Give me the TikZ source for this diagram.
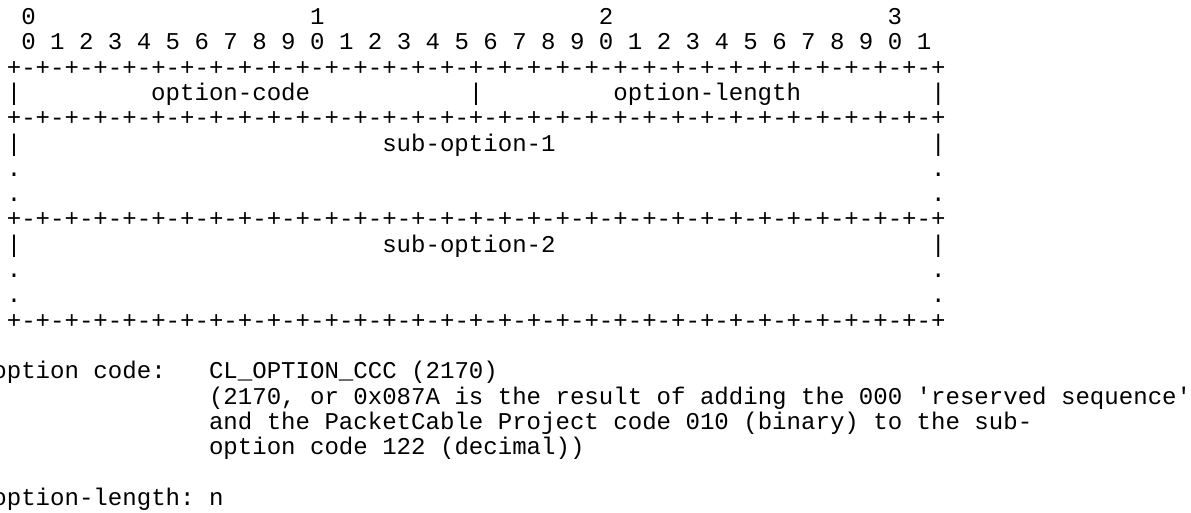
\documentclass[tikz,border=0pt]{standalone}
\usepackage{fontspec}
\setmonofont{Liberation Mono}[WordSpace={1,0,0}]

\newcommand{\asciifont}{\ttfamily\fontsize{24.07pt}{25pt}\selectfont\frenchspacing}
\newcommand{\ruleeight}{+-+-+-+-+-+-+-+-}
\newcommand{\rowrule}{\ruleeight\ruleeight\ruleeight\ruleeight+}

\tikzstyle{mono} = [inner sep=0pt, outer sep=0pt, anchor=base west, font=\asciifont, text=black]
\tikzstyle{ruler} = [mono]
\tikzstyle{field} = [mono]
\tikzstyle{comment} = [mono]

\begin{document}
\begin{tikzpicture}[x=14.44pt, y=-25.3pt]
		\fill [white] (7.6pt,24.5pt) rectangle (1198.6pt,-487.5pt);
		\useasboundingbox (7.6pt,24.5pt) rectangle (1198.6pt,-487.5pt);

		% bit numbers
		\node (hdrZero) [ruler] at (2,0) {0};
		\node (hdrOne) [ruler] at (22,0) {1};
		\node (hdrTwo) [ruler] at (42,0) {2};
		\node (hdrThree) [ruler] at (62,0) {3};
		\node (bitRow) [ruler] at (2,1) {0 1 2 3 4 5 6 7 8 9 0 1 2 3 4 5 6 7 8 9 0 1 2 3 4 5 6 7 8 9 0 1};

		% option layout
		\node (ruleA) [field] at (1,2) {\rowrule};
		\node (barA) [field] at (1,3) {|};
		\node (optionCode) [field] at (11,3) {option-code};
		\node (barB) [field] at (33,3) {|};
		\node (optionLength) [field] at (43,3) {option-length};
		\node (barC) [field] at (65,3) {|};
		\node (ruleB) [field] at (1,4) {\rowrule};
		\node (barD) [field] at (1,5) {|};
		\node (subOptionOne) [field] at (27,5) {sub-option-1};
		\node (barE) [field] at (65,5) {|};
		\node (dotA) [field] at (1,6) {.};
		\node (dotB) [field] at (65,6) {.};
		\node (dotC) [field] at (1,7) {.};
		\node (dotD) [field] at (65,7) {.};
		\node (ruleC) [field] at (1,8) {\rowrule};
		\node (barF) [field] at (1,9) {|};
		\node (subOptionTwo) [field] at (27,9) {sub-option-2};
		\node (barG) [field] at (65,9) {|};
		\node (dotE) [field] at (1,10) {.};
		\node (dotF) [field] at (65,10) {.};
		\node (dotG) [field] at (1,11) {.};
		\node (dotH) [field] at (65,11) {.};
		\node (ruleD) [field] at (1,12) {\rowrule};

		% field notes
		\node (codeKey) [comment] at (0,14) {option code:};
		\node (codeVal) [comment] at (15,14) {CL\_OPTION\_CCC (2170)};
		\node (codeNoteA) [comment] at (15,15) {(2170, or 0x087A is the result of adding the 000 'reserved sequence'};
		\node (codeNoteB) [comment] at (15,16) {and the PacketCable Project code 010 (binary) to the sub-};
		\node (codeNoteC) [comment] at (15,17) {option code 122 (decimal))};
		\node (lengthKey) [comment] at (0,19) {option-length: n};

	\end{tikzpicture}
\end{document}
